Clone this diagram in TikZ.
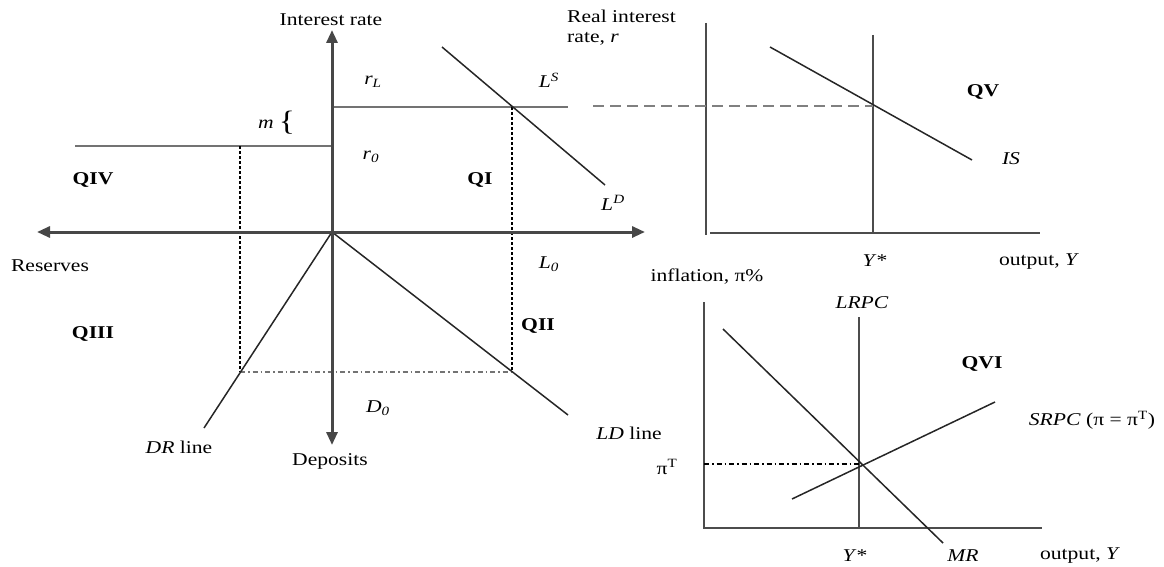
\documentclass[tikz,border=0pt]{standalone}
\usepackage{fontspec}
\setmainfont{Liberation Serif}
\usetikzlibrary{arrows.meta}
\begin{document}
\begin{tikzpicture}[x=1pt,y=-1pt,
  lbl/.style={font=\fontsize{18}{20}\selectfont, xscale=1.2, inner sep=0pt},
  blbl/.style={lbl, font=\fontsize{18}{20}\selectfont\bfseries},
  axis/.style={draw=black!72, line width=3pt},
  arr/.style={-{Triangle[length=13pt,width=11pt]}},
  curve/.style={draw=black!85, line width=1.5pt},
  level/.style={draw=black!55, line width=2.2pt},
  raxis/.style={draw=black!70, line width=2pt},
  guide/.style={draw=black, line width=1.1pt, densely dashed},
  dashdot/.style={draw=black!55, line width=1.8pt, dash pattern=on 5pt off 3pt on 1.5pt off 3pt},
  gdash/.style={draw=black!50, line width=2.2pt, dash pattern=on 11pt off 6pt}]
\useasboundingbox (0,0) rectangle (1164,567);
% ---------- left four-quadrant diagram ----------
\coordinate (O) at (332,232);
\coordinate (Ytop) at (332,30);
\coordinate (Ybot) at (332,445);
\coordinate (Xl) at (37,232);
\coordinate (Xr) at (645,232);
\coordinate (rLa) at (332,107);
\coordinate (rLb) at (568,107);
\coordinate (r0a) at (75,146);
\coordinate (r0b) at (332,146);
\coordinate (A) at (512,107);
\coordinate (LSa) at (442,47);
\coordinate (LSb) at (605,185);
\coordinate (Abot) at (512,372);
\coordinate (Ltop) at (240,146);
\coordinate (Lbot) at (240,372);
\coordinate (DRend) at (204,428);
\coordinate (LDend) at (568,415);

\draw[level] (rLa) -- (rLb);
\draw[level] (r0a) -- (r0b);
\draw[guide] (A) -- (Abot);
\draw[guide] (Ltop) -- (Lbot);
\draw[dashdot] (Lbot) -- (Abot);
\draw[curve] (O) -- (DRend);
\draw[curve] (O) -- (LDend);
\draw[curve] (LSa) -- (LSb);
\draw[axis,arr] (O) -- (Ytop);
\draw[axis,arr] (O) -- (Ybot);
\draw[axis,{Triangle[length=13pt,width=11pt]}-{Triangle[length=13pt,width=11pt]}] (Xl) -- (Xr);

\node[lbl] (tInt) at (331,20) {Interest rate};
\node[lbl] (trL) at (373,82) {\textit{r}\textsubscript{\textit{L}}};
\node[lbl] (tLS) at (549,80) {\textit{L}\textsuperscript{\textit{S}}};
\node[lbl] (tm) at (266,124) {\textit{m}};
\node[lbl, font=\fontsize{28}{30}\selectfont] (tbr) at (287,123) {\{};
\node[lbl] (tr0) at (371,157) {\textit{r}\textsubscript{\textit{0}}};
\node[blbl] (tQI) at (480,180) {QI};
\node[lbl] (tLD) at (613,203) {\textit{L}\textsuperscript{\textit{D}}};
\node[blbl] (tQIV) at (93,180) {QIV};
\node[lbl] (tRes) at (50,266) {Reserves};
\node[blbl] (tQIII) at (93,334) {QIII};
\node[lbl] (tL0) at (549,264) {\textit{L}\textsubscript{\textit{0}}};
\node[blbl] (tQII) at (538,326) {QII};
\node[lbl] (tD0) at (378,408) {\textit{D}\textsubscript{\textit{0}}};
\node[lbl] (tDR) at (179,447) {\textit{DR} line};
\node[lbl] (tDep) at (330,461) {Deposits};
\node[lbl] (tLDl) at (629,433) {\textit{LD} line};

% ---------- top right: IS diagram ----------
\coordinate (Vt) at (706,23);
\coordinate (Vb) at (706,235);
\coordinate (Hl) at (710,233);
\coordinate (Hr) at (1040,233);
\coordinate (YSt) at (873,35);
\coordinate (YSb) at (873,233);
\coordinate (ISa) at (770,47);
\coordinate (ISb) at (972,160);
\coordinate (B) at (873,106);
\coordinate (Dst) at (593,106);

\draw[raxis] (Vt) -- (Vb);
\draw[raxis] (Hl) -- (Hr);
\draw[raxis] (YSt) -- (YSb);
\draw[curve] (ISa) -- (ISb);
\draw[gdash] (Dst) -- (B);

\node[lbl, align=left, anchor=north west] (tReal) at (567,10) {Real interest\\rate, \textit{r}};
\node[blbl] (tQV) at (983,92) {QV};
\node[lbl] (tIS) at (1011,159) {\textit{IS}};
\node[lbl] (tYs1) at (875,261) {\textit{Y}*};
\node[lbl] (tOut1) at (1039,262) {output, \textit{Y}};

% ---------- bottom right: Phillips curve diagram ----------
\coordinate (Wt) at (704,302);
\coordinate (Wb) at (704,529);
\coordinate (Kl) at (704,528);
\coordinate (Kr) at (1042,528);
\coordinate (LRt) at (859,317);
\coordinate (LRb) at (859,528);
\coordinate (MRa) at (723,329);
\coordinate (MRb) at (943,543);
\coordinate (SRa) at (792,499);
\coordinate (SRb) at (995,402);
\coordinate (C) at (860,464);
\coordinate (piT) at (704,464);

\draw[raxis] (Wt) -- (Wb);
\draw[raxis] (Kl) -- (Kr);
\draw[raxis] (LRt) -- (LRb);
\draw[curve] (MRa) -- (MRb);
\draw[curve] (SRa) -- (SRb);
\draw[draw=black, line width=1.1pt, dash pattern=on 5pt off 3pt on 1.5pt off 3pt] (piT) -- (C);

\node[lbl] (tInf) at (707,277) {inflation, π\%};
\node[lbl] (tLRPC) at (862,303) {\textit{LRPC}};
\node[blbl] (tQVI) at (982,364) {QVI};
\node[lbl] (tSRPC) at (1092,420) {\textit{SRPC} (π = π\textsuperscript{T})};
\node[lbl] (tpiT) at (667,467) {π\textsuperscript{T}};
\node[lbl] (tYs2) at (855,556) {\textit{Y}*};
\node[lbl] (tMR) at (963,556) {\textit{MR}};
\node[lbl] (tOut2) at (1080,556) {output, \textit{Y}};
\end{tikzpicture}
\end{document}
